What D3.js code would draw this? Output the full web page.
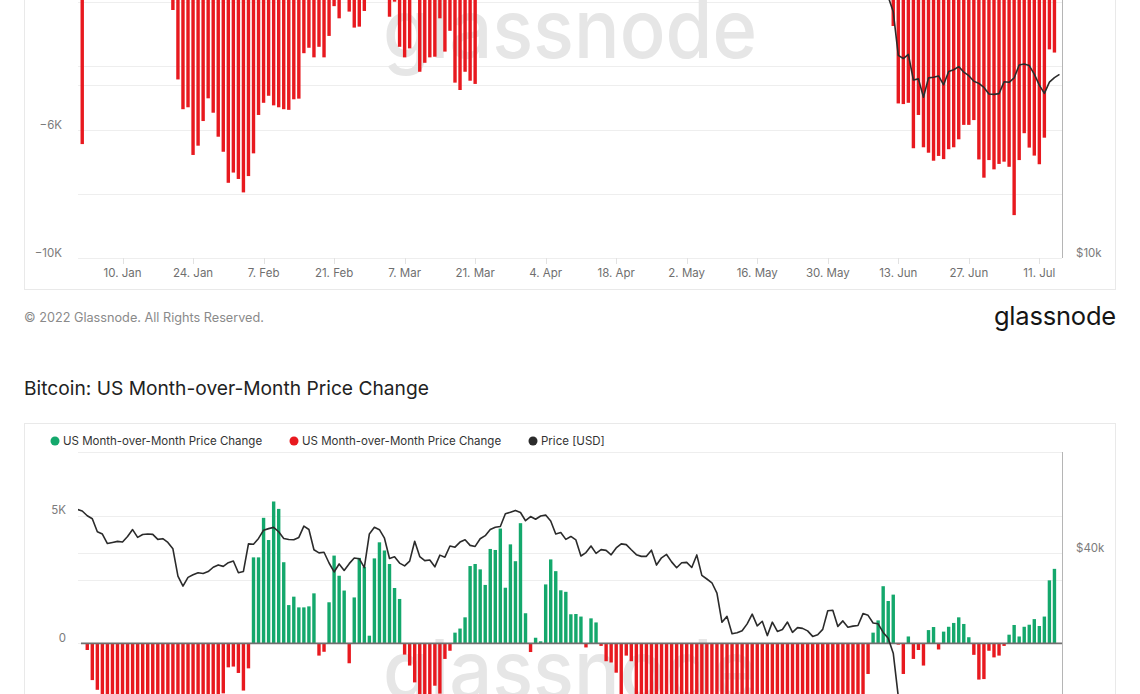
<!DOCTYPE html>
<html><head><meta charset="utf-8">
<script src="https://cdn.jsdelivr.net/npm/d3@7"></script>
<style>
html,body{margin:0;padding:0;background:#fff;overflow:hidden;}
svg{display:block;font-family:Inter,"Noto Sans",sans-serif;}
</style></head><body>
<svg id="chart" width="1140" height="694"></svg>
<script>
// ---------- DATA ----------
// daily dates: 1 Jan 2022 .. 15 Jul 2022
const firstDay = new Date(Date.UTC(2022, 0, 1));
const lastDayExclusive = new Date(Date.UTC(2022, 6, 16));
const dates = d3.utcDays(firstDay, lastDayExclusive);

// Price [USD], one value per day from 1 Jan
const priceUSD = [
 47686,47345,46458,45897,43569,43160,41558,41734,41912,41822,42736,43950,42592,43099,43177,43114,42250,42375,41744,40680,36458,35030,36276,36654,36954,36852,37138,37784,38138,37918,38483,
 38743,36952,37154,41501,41441,42412,43840,44118,44338,43565,42407,42244,42197,42586,44575,43961,40538,40031,40122,38431,37075,38286,37296,38332,39214,39105,37710,43194,
 44354,43925,42452,39138,39400,38420,37988,38731,41942,39437,38795,38904,37849,39666,39338,41143,40951,41801,42191,41247,41077,42358,42892,43960,44349,44500,46820,47128,47465,47062,45539,
 46306,45811,46407,46580,45497,43170,43444,42252,42753,42158,39530,40074,41147,39942,40552,40424,39716,40826,41503,41374,40527,39741,39469,39470,40458,38117,39241,39773,38609,37714,
 38469,38529,37751,39698,36575,36040,35501,34059,30297,31022,28936,29047,29283,30102,31305,29863,30425,28720,30315,29200,29433,30323,29098,29655,29562,29267,28628,28814,29445,31726,31792,
 29799,30467,29704,29833,29906,31370,31155,30215,30112,29084,28425,26762,22487,22206,22572,20381,20472,19018,20553,20599,20710,19988,21086,21232,21502,21028,20735,20281,20105,19785,
 19269,19243,19297,20231,20190,20548,21637,21731,21592,20860,19970,19323,20212,20569,20836
];

// Upper chart: price change (thousands), index = day from 1 Jan (first entry null)
const upperChangeK = [
 null,-6.44,
 -1.2,-0.8,-0.5,0.6,1.1,0.9,0.4,-0.3,-0.9,-1.4,-1.1,-0.6,-0.9,-1.3,-1.6,-1.5,-1.8,
 -2.25,-4.42,-5.35,-5.29,-6.78,-6.49,-5.72,-5.01,-5.46,-6.21,-6.68,-7.65,-7.33,-7.53,-7.95,-7.44,-6.73,-5.53,-5.15,-4.93,-5.23,-5.29,-5.35,-5.37,-5.04,-5.02,
 -3.60,-3.43,-3.73,-3.40,-3.73,-3.06,-2.13,-2.51,-1.5,-2.30,-2.80,-2.77,-2.28,-1.6,-1.2,-0.9,-1.4,-2.46,-1.99,-3.40,-3.73,-3.45,-1.7,
 -4.18,-3.90,-3.73,-3.71,-2.51,-3.55,-2.90,-4.52,-4.75,-4.18,-4.46,-4.56,
 -1.6,-1.1,-0.6,0.2,0.8,1.3,0.9,1.6,2.1,1.8,
 1.2,0.7,0.3,-0.2,-0.6,-1.0,-1.3,-1.5,-1.2,-0.9,
 -0.4,0.1,0.5,0.2,-0.3,-0.8,-1.2,-1.6,-1.4,-1.7,
 -1.5,-1.8,-1.3,-1.0,-0.7,-1.1,-1.4,-1.6,-1.2,-0.9,
 -0.5,-0.2,0.3,0.7,1.0,0.6,0.2,-0.3,-0.7,-1.1,
 -1.5,-1.7,-1.4,-1.0,-0.6,-0.9,-1.3,-1.6,-1.8,-1.5,
 -1.2,-0.8,-0.4,-0.1,0.4,0.8,0.5,0.1,-0.4,-0.8,
 -1.2,-1.5,-1.7,-1.3,-0.9,-1.1,-1.4,-1.6,-1.8,-1.7,
 -1.5,-1.7,
 -2.75,-5.17,-5.19,-5.15,-6.57,-5.53,-6.54,-6.71,-6.96,-6.81,-6.91,-6.60,-6.54,-6.29,-5.84,-5.84,-5.69,-6.92,-7.49,-6.94,-7.23,-7.06,-6.99,-7.15,-8.66,-6.94,-6.10,-6.55,-6.80,-7.07,-6.24,-3.48,-3.58
];

// US Month-over-Month Price Change (thousands), index = day from 1 Jan (first entry null)
const usMoMChangeK = [
 null,0,-0.26,-1.44,-1.82,
 -2.6,-3.4,-4.1,-3.9,-4.6,-5.2,-4.3,-3.0,-4.8,-4.2,-5.0,-5.5,-6.0,-5.6,-6.4,-7.2,-9.0,-9.6,-8.4,-7.1,-6.2,-5.8,-4.6,-3.3,
 -1.96,-0.94,-0.91,-1.16,-1.85,-0.98,
 3.37,3.37,4.92,4.05,5.56,5.27,3.18,1.50,1.83,1.41,1.41,1.45,1.96,-0.48,-0.33,1.61,3.44,2.65,2.07,-0.78,1.80,3.35,3.0,0.30,3.33,3.96,3.64,3.11,2.17,1.74,
 -0.44,-0.87,-1.53,-2.3,-2.6,-2.5,-1.66,-1.97,-0.61,-0.29,
 0.42,0.58,1.02,3.03,3.11,2.9,2.29,3.70,3.66,4.5,2.18,3.88,3.22,4.71,1.18,-0.34,0.22,0.08,2.31,3.29,2.83,2.08,2.02,1.14,1.15,1.05,-0.16,0.98,0.82,-0.1,
 -0.7,-0.75,-1.15,-2.4,-0.48,-0.7,
 -2.3,-2.9,-3.6,-3.2,-4.1,-4.8,-5.3,-6.1,-5.7,-6.4,-6.0,-6.8,-5.9,-7.4,-8.1,-8.6,-9.3,-10.0,-9.6,-10.0,-10.0,-9.8,-9.2,-8.8,-9.5,-9.1,-9.9,-9.0,-9.4,-9.2,-8.7,-9.0,-8.6,-8.3,-8.4,-8.8,-8.1,-7.6,-6.2,-5.1,-5.4,-4.7,-4.9,-4.3,-3.5,-2.4,
 -1.2,0.42,0.90,2.24,1.66,1.91,-0.05,-1.2,0.27,-0.61,-0.26,-0.87,0.52,0.64,-0.24,0.46,0.65,0.80,1.02,0.76,0.24,-0.45,-1.42,-1.40,-0.29,-0.55,-0.48,-0.1,0.34,0.72,0.27,0.65,0.73,0.95,0.68,1.05,2.47,2.92
];

const xTickDates = ["2022-01-10","2022-01-24","2022-02-07","2022-02-21","2022-03-07","2022-03-21","2022-04-04","2022-04-18","2022-05-02","2022-05-16","2022-05-30","2022-06-13","2022-06-27","2022-07-11"];
const upperLeftTicks = [-10000,-8000,-6000,-4000,-2000,0,2000,4000];
const lowerLeftTicks = [-10000,-7500,-5000,-2500,0,2500,5000,7500];
const priceTicks = [10000,20000,40000];
const legendNames = ["US Month-over-Month Price Change","US Month-over-Month Price Change","Price [USD]"];
const titleText = "Bitcoin: US Month-over-Month Price Change";
const copyrightText = "© 2022 Glassnode. All Rights Reserved.";

// ---------- STYLE ----------
const GREEN = "#14a86c", RED = "#e8191f", LINE = "#2b2b2b";
const GRID = "#eeeeee", LABEL = "#7b7b7b";
const plotLeft = 78, plotRight = 1062;
const dayMs = 864e5;
const viewTop = 8, viewBottom = 684; // labels outside this band are scrolled out of the window

const svg = d3.select("#chart");

const x = d3.scaleUtc()
  .domain([new Date(firstDay.getTime() + 0.16 * dayMs), new Date(firstDay.getTime() + 195.5 * dayMs)])
  .range([plotLeft, plotRight]);

const kFmt = v => v === 0 ? "0" : d3.format("~g")(v / 1000) + "K";
const usdFmt = v => "$" + d3.format("~g")(v / 1000) + "k";
const inView = y => y > viewTop && y < viewBottom;

function drawPanel(cfg) {
  const g = svg.append("g");
  const yL = d3.scaleLinear().domain(cfg.leftDomain).range([cfg.bottom, cfg.top]);
  const yR = d3.scaleLog().domain([10000, 60000]).range([cfg.bottom, cfg.top]);
  const clipId = "clip" + cfg.id;
  svg.append("clipPath").attr("id", clipId).append("rect")
    .attr("x", plotLeft).attr("y", cfg.top).attr("width", plotRight - plotLeft).attr("height", cfg.bottom - cfg.top);

  // panel frame
  g.append("rect").attr("x", 24.5).attr("y", cfg.frameTop + 0.5)
    .attr("width", 1091).attr("height", cfg.frameBottom - cfg.frameTop)
    .attr("fill", "none").attr("stroke", "#e9e9e9");

  // grid lines
  g.append("g").selectAll("line").data(cfg.leftTicks).join("line")
    .attr("x1", plotLeft).attr("x2", plotRight)
    .attr("y1", d => Math.round(yL(d)) + 0.5).attr("y2", d => Math.round(yL(d)) + 0.5)
    .attr("stroke", GRID);
  g.append("g").selectAll("line").data(priceTicks).join("line")
    .attr("x1", plotLeft).attr("x2", plotRight)
    .attr("y1", d => Math.round(yR(d)) + 0.5).attr("y2", d => Math.round(yR(d)) + 0.5)
    .attr("stroke", GRID);

  // watermark
  g.append("text").attr("x", (plotLeft + plotRight) / 2).attr("y", (cfg.top + cfg.bottom) / 2 + 24)
    .attr("text-anchor", "middle").attr("font-size", 82).attr("font-weight", 500)
    .attr("textLength", 374).attr("lengthAdjust", "spacingAndGlyphs")
    .attr("fill", "#e6e6e6").text("glassnode");

  // bars
  const bw = 3.4;
  const bars = dates.map((d, i) => ({ date: d, v: cfg.values[i] }))
    .filter(b => b.v !== null && b.v !== undefined && b.v !== 0);
  g.append("g").attr("clip-path", `url(#${clipId})`).selectAll("rect").data(bars).join("rect")
    .attr("x", b => x(b.date) - bw / 2).attr("width", bw)
    .attr("y", b => Math.min(yL(b.v * 1000), yL(0)))
    .attr("height", b => Math.abs(yL(b.v * 1000) - yL(0)))
    .attr("fill", b => b.v > 0 ? GREEN : RED);

  // zero line
  g.append("line").attr("x1", plotLeft + 3).attr("x2", plotRight)
    .attr("y1", yL(0)).attr("y2", yL(0)).attr("stroke", "#6f6f6f").attr("stroke-width", 1.6);

  // price line
  const line = d3.line().x((d, i) => x(dates[i])).y(d => yR(d)).curve(d3.curveLinear);
  g.append("path").attr("clip-path", `url(#${clipId})`).datum(priceUSD)
    .attr("d", line).attr("fill", "none").attr("stroke", LINE).attr("stroke-width", 1.6)
    .attr("stroke-linejoin", "round");

  // right axis line
  g.append("line").attr("x1", plotRight + 0.5).attr("x2", plotRight + 0.5)
    .attr("y1", cfg.top).attr("y2", cfg.bottom).attr("stroke", "#b5b5b5");

  // left labels (every other tick from the bottom), only those inside the window
  const leftLab = cfg.leftTicks.filter((d, i) => i % 2 === 0).filter(d => inView(yL(d) - 5.5));
  g.append("g").selectAll("text").data(leftLab).join("text")
    .attr("x", cfg.leftLabelX).attr("y", d => yL(d) - 5.5).attr("dy", "0.35em")
    .attr("text-anchor", "end").attr("font-size", 11.5).attr("fill", LABEL).text(kFmt);
  // right labels
  const rightLab = priceTicks.filter((d, i) => i % 2 === 0).filter(d => inView(yR(d) - 5.5));
  g.append("g").selectAll("text").data(rightLab).join("text")
    .attr("x", 1076).attr("y", d => yR(d) - 5.5).attr("dy", "0.35em")
    .attr("text-anchor", "start").attr("font-size", 11.5).attr("fill", LABEL).text(usdFmt);

  // x axis
  if (cfg.xAxis) {
    const ticks = xTickDates.map(s => new Date(s + "T00:00:00Z"));
    g.append("g").selectAll("line").data(ticks).join("line")
      .attr("x1", d => Math.round(x(d)) + 0.5).attr("x2", d => Math.round(x(d)) + 0.5)
      .attr("y1", cfg.bottom).attr("y2", cfg.bottom + 6).attr("stroke", "#e2e2e2");
    g.append("g").selectAll("text").data(ticks).join("text")
      .attr("x", d => x(d)).attr("y", cfg.bottom + 15).attr("dy", "0.35em")
      .attr("text-anchor", "middle").attr("font-size", 11.5).attr("fill", "#6f6f6f")
      .text(d3.utcFormat("%-d. %b"));
  }
  return g;
}

// upper chart (scrolled, only lower part visible)
drawPanel({ id: "a", top: -190, bottom: 258, frameTop: -300, frameBottom: 289,
  leftDomain: [-10000, 4000], leftTicks: upperLeftTicks, values: upperChangeK,
  leftLabelX: 62, xAxis: true });

// footer of upper chart
svg.append("text").attr("x", 24).attr("y", 318).attr("dy", "0.35em")
  .attr("font-size", 12.7).attr("fill", "#8a8a8a").text(copyrightText);
svg.append("text").attr("x", 1116).attr("y", 316).attr("dy", "0.35em")
  .attr("text-anchor", "end").attr("font-size", 25.5).attr("font-weight", 400)
  .attr("fill", "#151515").attr("letter-spacing", -0.2).text("glassnode");

// title of lower chart
svg.append("text").attr("x", 24).attr("y", 388).attr("dy", "0.35em")
  .attr("font-size", 19.2).attr("fill", "#222").text(titleText);

// lower chart
drawPanel({ id: "b", top: 452, bottom: 898.5, frameTop: 423, frameBottom: 1000,
  leftDomain: [-10000, 7500], leftTicks: lowerLeftTicks, values: usMoMChangeK,
  leftLabelX: 66, xAxis: false });

// legend
const legendColors = [GREEN, RED, LINE];
const legendX = [55, 294, 533];
const lg = svg.append("g").selectAll("g").data(legendNames).join("g")
  .attr("transform", (d, i) => `translate(${legendX[i]},441)`);
lg.append("circle").attr("r", 4.5).attr("fill", (d, i) => legendColors[i]);
lg.append("text").attr("x", 8).attr("dy", "0.35em").attr("font-size", 11.5).attr("fill", "#333").text(d => d);
</script>
</body></html>
